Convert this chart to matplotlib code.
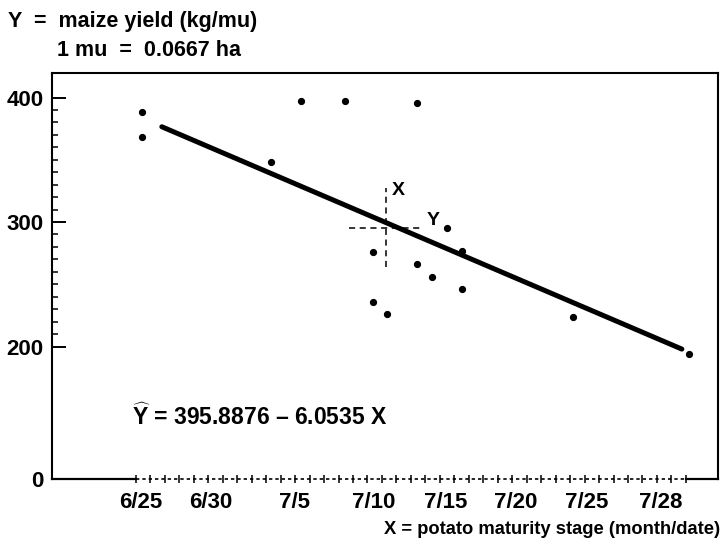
import numpy as np
import matplotlib.pyplot as plt

plt.rcParams['font.family'] = ['Liberation Sans', 'DejaVu Sans']
plt.rcParams['font.weight'] = 'bold'
plt.rcParams['mathtext.fontset'] = 'custom'
plt.rcParams['mathtext.rm'] = 'Liberation Sans:bold'
plt.rcParams['mathtext.bf'] = 'Liberation Sans:bold'

# x is in the units of the regression equation (stage index)
date_labels = ['6/25', '6/30', '7/5', '7/10', '7/15', '7/20', '7/25', '7/28']
date_pos = [2.0, 6.0, 10.7, 15.2, 19.3, 23.3, 27.3, 31.5]

stage_x = [2.1, 2.1, 9.4, 11.1, 13.6, 17.7, 15.2, 19.4, 20.2, 17.7,
           18.5, 20.2, 15.2, 16.0, 26.5, 33.1]
yield_y = [388, 368, 348, 397, 397, 396, 276, 295, 277, 266,
           256, 246, 236, 226, 224, 194]

# regression  Y = a - b X
a, b = 395.8876, 6.0535
fit_range = [3.2, 32.7]

# means (crosshair)
x_mean, y_mean = 15.9, 295.5

ymin, ymax = 93.6, 419.7
xmin, xmax = -3.03, 34.75

fig = plt.figure(figsize=(7.24, 5.46), dpi=100)
ax = fig.add_axes([52 / 724, 67 / 546, 666 / 724, 406 / 546])
ax.set_xlim(xmin, xmax)
ax.set_ylim(ymin, ymax)

ax.plot(stage_x, yield_y, 'o', color='black', ms=4.2, zorder=3)

fx = np.array(fit_range)
ax.plot(fx, a - b * fx, color='black', lw=3.6, solid_capstyle='round')

# crosshair at the means
ax.plot([x_mean, x_mean], [y_mean - 32, y_mean + 32], color='black',
        lw=1.1, ls=(0, (4, 3)))
ax.plot([x_mean - 2.1, x_mean + 2.1], [y_mean, y_mean], color='black',
        lw=1.1, ls=(0, (4, 3)))
ax.text(x_mean + 0.35, y_mean + 30, 'X', fontsize=14, va='center', ha='left')
ax.text(x_mean + 2.3, y_mean + 6, 'Y', fontsize=14, va='center', ha='left')

# equation
eq = r'$\widehat{\mathrm{Y}}$ = ' + f'{a} \u2013 {b} X'
ax.text(1.5, 137, eq, fontsize=16.5, va='baseline', ha='left')

# spines: bottom drawn by hand (solid ends, dashed middle)
ax.spines['bottom'].set_visible(False)
for s in ['left', 'top', 'right']:
    ax.spines[s].set_linewidth(1.5)
x_dash0, x_dash1 = 1.73, 32.93
ax.plot([xmin, x_dash0], [ymin, ymin], color='black', lw=1.6, clip_on=False)
ax.plot([x_dash0, x_dash1], [ymin, ymin], color='black', lw=1.2,
        ls=(0, (2.0, 1.8)), clip_on=False)
ax.plot([x_dash1, xmax], [ymin, ymin], color='black', lw=1.6, clip_on=False)
ax.plot(np.linspace(x_dash0, x_dash1, 39), np.full(39, ymin), '|',
        color='black', ms=6, mew=1.1, clip_on=False)

ax.set_xticks(date_pos)
ax.set_xticklabels(date_labels)
ax.tick_params(axis='x', length=0, pad=9, labelsize=16)

ax.set_yticks([ymin, 200, 300, 400])
ax.set_yticklabels(['0', '200', '300', '400'])
ax.set_yticks(np.arange(210, 400, 10), minor=True)
ax.tick_params(axis='y', which='major', direction='in', length=10, width=1.4,
               pad=6, labelsize=16)
ax.tick_params(axis='y', which='minor', direction='in', length=4, width=1.1)
ax.yaxis.get_major_ticks()[0].tick1line.set_visible(False)

fig.text(8 / 724, 1 - 21 / 546, 'Y  =  maize yield (kg/mu)', fontsize=15.5,
         va='center', ha='left')
fig.text(57 / 724, 1 - 51 / 546, '1 mu  =  0.0667 ha', fontsize=15.5,
         va='center', ha='left')
fig.text(720 / 724, 1 - 530 / 546, 'X = potato maturity stage (month/date)',
         fontsize=13.2, va='center', ha='right')

fig.savefig('out.png', dpi=100)
